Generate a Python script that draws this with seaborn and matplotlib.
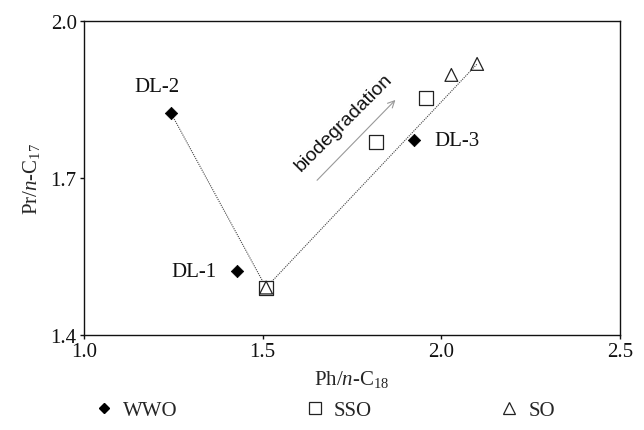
import matplotlib
matplotlib.use("Agg")
import matplotlib.pyplot as plt
import seaborn as sns
import pandas as pd
from matplotlib.lines import Line2D

# Sample groups and their ratio values
wwo_x = [1.244, 1.429, 1.924]
wwo_y = [1.824, 1.522, 1.772]
wwo_names = ["DL-2", "DL-1", "DL-3"]

sso_x = [1.510, 1.818, 1.958]
sso_y = [1.491, 1.769, 1.853]

so_x = [1.510, 2.028, 2.100]
so_y = [1.491, 1.897, 1.918]

# Trend path: DL-2 down to the minimum, then up along the biodegradation trend
trend_x = [1.244, 1.510, 2.100]
trend_y = [1.824, 1.491, 1.918]

# Biodegradation arrow (start, end)
arrow_x = [1.647, 1.877]
arrow_y = [1.692, 1.853]

x_ticks = [1.0, 1.5, 2.0, 2.5]
y_ticks = [1.4, 1.7, 2.0]

FS = 15

sns.set_theme(style="ticks")
plt.rcParams["font.family"] = ["Liberation Serif", "DejaVu Serif"]
plt.rcParams["mathtext.fontset"] = "custom"
plt.rcParams["mathtext.rm"] = "Liberation Serif"
plt.rcParams["mathtext.it"] = "Liberation Serif:italic"

fig = plt.figure(figsize=(6.44, 4.31), dpi=100)
ax = fig.add_axes([0.130, 0.220, 0.833, 0.729])

trend = pd.DataFrame({"x": trend_x, "y": trend_y})
sns.lineplot(data=trend, x="x", y="y", sort=False, ax=ax, color="#444444",
             lw=0.8, linestyle=(0, (1, 1)), zorder=1)

wwo = pd.DataFrame({"x": wwo_x, "y": wwo_y})
sso = pd.DataFrame({"x": sso_x, "y": sso_y})
so = pd.DataFrame({"x": so_x, "y": so_y})

sns.scatterplot(data=sso, x="x", y="y", ax=ax, marker="s", s=90,
                facecolor="white", edgecolor="#222222", linewidth=0.9, zorder=3)
sns.scatterplot(data=so, x="x", y="y", ax=ax, marker="^", s=85,
                facecolor="none", edgecolor="#222222", linewidth=0.9, zorder=4)
sns.scatterplot(data=wwo, x="x", y="y", ax=ax, marker="D", s=40,
                color="black", edgecolor="black", zorder=5)

# Sample labels
label_offsets = {"DL-2": (-10, 19), "DL-1": (-31, 0), "DL-3": (31, 0)}
for name, xv, yv in zip(wwo_names, wwo_x, wwo_y):
    dx, dy = label_offsets[name]
    ax.annotate(name, (xv, yv), xytext=(dx, dy), textcoords="offset points",
                ha="center", va="center", fontsize=FS, color="#111111")

ax.annotate("", xy=(arrow_x[1], arrow_y[1]), xytext=(arrow_x[0], arrow_y[0]),
            arrowprops=dict(arrowstyle="->", color="#999999", lw=0.8,
                            mutation_scale=12))
ax.text(1.726, 1.808, "biodegradation", rotation=45, rotation_mode="anchor",
        ha="center", va="center", fontsize=14, family="Liberation Sans",
        color="#111111", transform=ax.transData)

ax.set_xlim(1.0, 2.5)
ax.set_ylim(1.4, 2.0)
ax.set_xticks(x_ticks)
ax.set_yticks(y_ticks)
ax.set_xticklabels([f"{v:.1f}" for v in x_ticks])
ax.set_yticklabels([f"{v:.1f}" for v in y_ticks])
ax.tick_params(labelsize=FS, length=3, width=1, colors="#111111",
               direction="out", pad=2)
for sp in ax.spines.values():
    sp.set_linewidth(1)
    sp.set_color("#111111")

ax.set_xlabel(r"Ph/$\mathit{n}$-C$_{18}$", fontsize=FS, labelpad=5)
ax.set_ylabel(r"Pr/$\mathit{n}$-C$_{17}$", fontsize=FS, labelpad=6)

handles = [
    Line2D([], [], marker="D", ls="", color="black", markersize=5),
    Line2D([], [], marker="s", ls="", markerfacecolor="white",
           markeredgecolor="#222222", markersize=8, markeredgewidth=0.9),
    Line2D([], [], marker="^", ls="", markerfacecolor="white",
           markeredgecolor="#222222", markersize=8, markeredgewidth=0.9),
]
fig.legend(handles, ["WWO", "SSO", "SO"], loc="center", bbox_to_anchor=(0.502, 0.045),
           ncol=3, frameon=False, fontsize=FS, columnspacing=6.0,
           handletextpad=0.3, handlelength=1.2)

fig.savefig("out.png", dpi=100)
